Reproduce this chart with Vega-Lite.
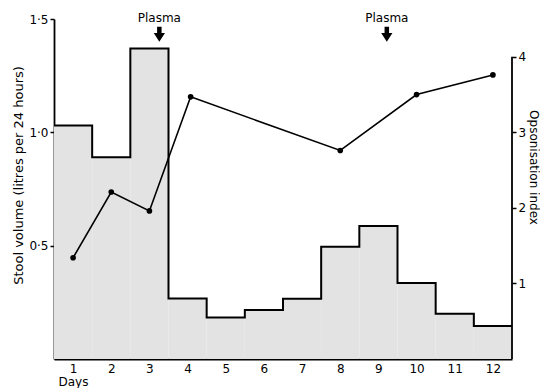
{
  "$schema": "https://vega.github.io/schema/vega-lite/v6.json",
  "width": 458,
  "height": 340,
  "autosize": {"type": "none"},
  "padding": {"left": 54, "top": 19, "right": 28, "bottom": 29},
  "background": "white",
  "config": {
    "view": {"stroke": null},
    "font": "DejaVu Sans",
    "axis": {
      "grid": false,
      "labelColor": "black",
      "titleColor": "black",
      "domainColor": "black",
      "tickColor": "black",
      "domainWidth": 1.8,
      "tickWidth": 1.5,
      "labelFont": "DejaVu Sans",
      "titleFont": "DejaVu Sans",
      "labelFontSize": 12,
      "titleFontSize": 12,
      "titleFontWeight": "normal"
    }
  },
  "datasets": {
    "stool": [
      {"day": 1, "from": 0.5, "to": 1.5, "volume": 1.03},
      {"day": 2, "from": 1.5, "to": 2.5, "volume": 0.89},
      {"day": 3, "from": 2.5, "to": 3.5, "volume": 1.37},
      {"day": 4, "from": 3.5, "to": 4.5, "volume": 0.267},
      {"day": 5, "from": 4.5, "to": 5.5, "volume": 0.183},
      {"day": 6, "from": 5.5, "to": 6.5, "volume": 0.216},
      {"day": 7, "from": 6.5, "to": 7.5, "volume": 0.266},
      {"day": 8, "from": 7.5, "to": 8.5, "volume": 0.495},
      {"day": 9, "from": 8.5, "to": 9.5, "volume": 0.587},
      {"day": 10, "from": 9.5, "to": 10.5, "volume": 0.335},
      {"day": 11, "from": 10.5, "to": 11.5, "volume": 0.2},
      {"day": 12, "from": 11.5, "to": 12.5, "volume": 0.146}
    ],
    "opson": [
      {"day": 1, "index": 1.34},
      {"day": 2, "index": 2.21},
      {"day": 3, "index": 1.96},
      {"day": 4.08, "index": 3.47},
      {"day": 8, "index": 2.76},
      {"day": 10, "index": 3.5},
      {"day": 12, "index": 3.76}
    ],
    "plasma": [
      {"day": 3.26, "label": "Plasma", "textY": 1.5, "arrowY": 1.433},
      {"day": 9.22, "label": "Plasma", "textY": 1.5, "arrowY": 1.433}
    ],
    "rightaxis": [
      {"day": 12.5, "low": 0, "high": 4}
    ]
  },
  "layer": [
    {
      "layer": [
        {
          "data": {"name": "stool"},
          "mark": {"type": "rect", "fill": "#e3e3e3", "strokeWidth": 0},
          "encoding": {
            "x": {
              "field": "from",
              "type": "quantitative",
              "scale": {"domain": [0.5, 12.5], "nice": false, "zero": false},
              "axis": {
                "values": [1, 2, 3, 4, 5, 6, 7, 8, 9, 10, 11, 12],
                "tickSize": -4,
                "labelPadding": 8,
                "title": "Days",
                "titleAnchor": "start",
                "titleX": 4,
                "titlePadding": 2,
                "titleAlign": "left"
              }
            },
            "x2": {"field": "to"},
            "y": {
              "field": "volume",
              "type": "quantitative",
              "scale": {"domain": [0, 1.5], "nice": false},
              "axis": {
                "values": [0.5, 1, 1.5],
                "labelExpr": "replace(format(datum.value, '.1f'), '.', '·')",
                "tickSize": 4,
                "labelPadding": 2,
                "title": "Stool  volume  (litres per 24 hours)",
                "titleFontSize": 13,
                "titlePadding": 3,
                "titleY": 156
              }
            },
            "y2": {"datum": 0}
          }
        },
        {
          "data": {"name": "stool"},
          "transform": [{"fold": ["from", "to"], "as": ["edge", "pos"]}],
          "mark": {"type": "line", "color": "black", "strokeWidth": 2},
          "encoding": {
            "x": {"field": "pos", "type": "quantitative"},
            "y": {"field": "volume", "type": "quantitative"},
            "order": [{"field": "day"}, {"field": "pos"}]
          }
        },
        {
          "data": {"name": "plasma"},
          "mark": {"type": "text", "fontSize": 12, "font": "DejaVu Sans", "baseline": "alphabetic", "dy": 3, "color": "black"},
          "encoding": {
            "x": {"field": "day", "type": "quantitative"},
            "y": {"field": "textY", "type": "quantitative"},
            "text": {"field": "label"}
          }
        },
        {
          "data": {"name": "plasma"},
          "mark": {
            "type": "point",
            "filled": true,
            "color": "black",
            "opacity": 1,
            "size": 225,
            "shape": "M-0.3,-1L0.3,-1L0.3,-0.15L0.75,-0.15L0,1L-0.75,-0.15L-0.3,-0.15Z"
          },
          "encoding": {
            "x": {"field": "day", "type": "quantitative"},
            "y": {"field": "arrowY", "type": "quantitative"}
          }
        }
      ]
    },
    {
      "layer": [
        {
          "data": {"name": "opson"},
          "mark": {"type": "line", "color": "black", "strokeWidth": 1.6},
          "encoding": {
            "x": {"field": "day", "type": "quantitative"},
            "y": {
              "field": "index",
              "type": "quantitative",
              "scale": {"domain": [0, 4.5], "nice": false},
              "axis": {
                "orient": "right",
                "values": [1, 2, 3, 4],
                "format": "d",
                "domain": false,
                "tickSize": 4,
                "labelPadding": 2,
                "title": "Opsonisation  index",
                "titlePadding": 1,
                "titleY": 148
              }
            }
          }
        },
        {
          "data": {"name": "opson"},
          "mark": {"type": "point", "filled": true, "color": "black", "opacity": 1, "size": 32},
          "encoding": {
            "x": {"field": "day", "type": "quantitative"},
            "y": {"field": "index", "type": "quantitative"}
          }
        },
        {
          "data": {"name": "rightaxis"},
          "mark": {"type": "rule", "color": "black", "strokeWidth": 1.8},
          "encoding": {
            "x": {"field": "day", "type": "quantitative"},
            "y": {"field": "low", "type": "quantitative"},
            "y2": {"field": "high"}
          }
        }
      ]
    }
  ],
  "resolve": {"scale": {"y": "independent"}}
}
